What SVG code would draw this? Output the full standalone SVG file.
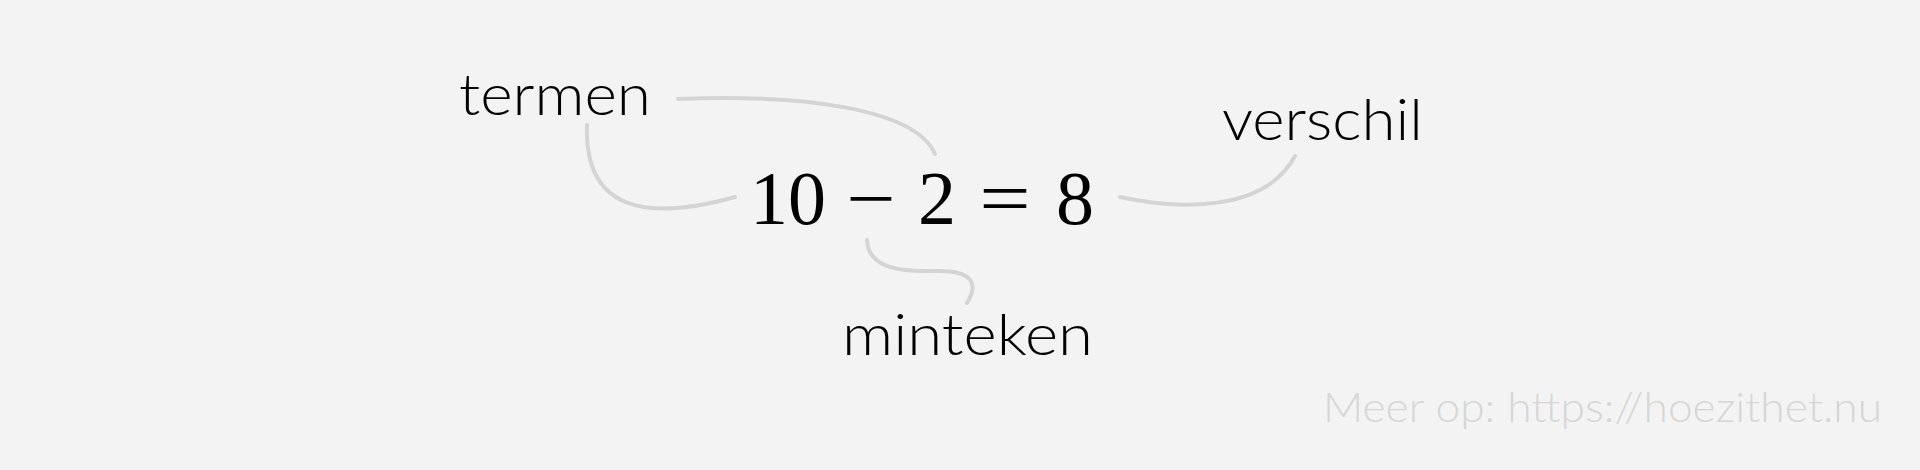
<svg xmlns="http://www.w3.org/2000/svg" width="1920" height="470" viewBox="0 0 1920 470">
<style>
.lbl{font-family:Lato,"Noto Sans","Liberation Sans",sans-serif;font-weight:300;font-size:58px;fill:#000;}
.math{font-family:"Liberation Serif","DejaVu Serif",serif;font-size:76px;fill:#000;}
.con{fill:none;stroke:#d4d4d4;stroke-width:4;stroke-linecap:round;}
.foot{font-family:Lato,"Noto Sans","Liberation Sans",sans-serif;font-weight:300;font-size:41px;fill:#d6d6d6;}
</style>
<rect width="1920" height="470" fill="#f3f3f3"/>
<g id="connectors">
<path class="con" d="M678,99 C800,94 915,108 935,154"/>
<path class="con" d="M587,125 C584,210 645,222 735,197"/>
<path class="con" d="M1120,197 C1180,210 1265,212 1295,156"/>
<path class="con" d="M867,240 C868,268 900,272 935,271 C975,270 978,285 967,303"/>
</g>
<g id="termen"><text class="lbl" x="459" y="115" textLength="192" lengthAdjust="spacingAndGlyphs">termen</text></g>
<g id="verschil"><text class="lbl" x="1222" y="140" textLength="201" lengthAdjust="spacingAndGlyphs">verschil</text></g>
<g id="minteken"><text class="lbl" x="842" y="355" textLength="251" lengthAdjust="spacingAndGlyphs">minteken</text></g>
<g id="equation">
<text class="math" x="788" y="224" text-anchor="middle">10</text>
<text class="math" x="871" y="224" text-anchor="middle" transform="translate(871 0) scale(1.15 1) translate(-871 0)">−</text>
<text class="math" x="937" y="224" text-anchor="middle">2</text>
<text class="math" x="1005" y="224" text-anchor="middle" transform="translate(1005 0) scale(1.2 1) translate(-1005 0)">=</text>
<text class="math" x="1075" y="224" text-anchor="middle">8</text>
</g>
<g id="footer"><text class="foot" x="1323" y="422" textLength="559" lengthAdjust="spacingAndGlyphs">Meer op: https://hoezithet.nu</text></g>
</svg>
